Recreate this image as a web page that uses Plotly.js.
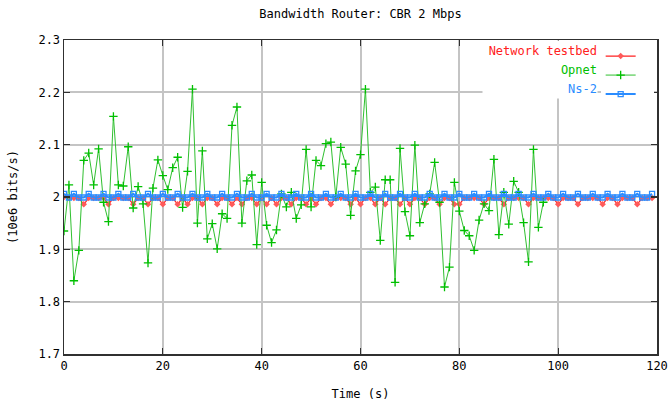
<!DOCTYPE html>
<html>
<head>
<meta charset="utf-8">
<script src="https://cdn.plot.ly/plotly-3.0.1.min.js"></script>
<style>html,body{margin:0;padding:0;background:#fff;}#chart{width:671px;height:407px;}</style>
</head>
<body>
<div id="chart"></div>
<script>
// ---- data ----
var seriesNames = ["Network testbed", "Opnet", "Ns-2"];

var opnetTime = [0,1,2,3,4,5,6,7,8,9,10,11,12,13,14,15,16,17,18,19,20,21,22,23,24,25,26,27,28,29,30,31,32,33,34,35,36,37,38,39,40,41,42,43,44,45,46,47,48,49,50,51,52,53,54,55,56,57,58,59,60,61,62,63,64,65,66,67,68,69,70,71,72,73,74,75,76,77,78,79,80,81,82,83,84,85,86,87,88,89,90,91,92,93,94,95,96,97];
var opnetValues = [1.935,2.023,1.840,1.898,2.070,2.084,2.023,2.092,1.990,1.953,
  2.154,2.023,2.021,2.096,1.979,2.020,1.987,1.874,2.017,2.071,
  2.041,2.014,2.056,2.076,1.980,2.049,2.206,1.950,2.088,1.920,
  1.949,1.901,1.968,1.959,2.137,2.172,1.950,2.031,2.042,1.909,
  2.028,1.946,1.913,1.937,2.006,1.981,2.009,1.959,1.985,2.091,
  1.981,2.070,2.060,2.102,2.105,2.000,2.095,2.063,1.965,2.050,
  2.081,2.206,2.009,2.019,1.917,2.033,2.033,1.837,2.093,1.972,
  1.926,2.099,1.951,1.987,2.006,2.066,1.990,1.828,1.866,2.028,
  1.973,1.936,1.926,1.898,1.956,1.987,1.974,2.072,1.928,2.009,
  1.948,2.030,2.009,1.951,1.876,2.091,1.942,1.990];

var simTime = [0,1,2,3,4,5,6,7,8,9,10,11,12,13,14,15,16,17,18,19,20,21,22,23,24,25,26,27,28,29,30,31,32,33,34,35,36,37,38,39,40,41,42,43,44,45,46,47,48,49,50,51,52,53,54,55,56,57,58,59,60,61,62,63,64,65,66,67,68,69,70,71,72,73,74,75,76,77,78,79,80,81,82,83,84,85,86,87,88,89,90,91,92,93,94,95,96,97,98,99,100,101,102,103,104,105,106,107,108,109,110,111,112,113,114,115,116,117,118,119];

var testbedValues = [2.000,1.998,1.998,1.998,1.986,1.998,1.998,1.998,1.998,1.986,
  1.998,1.998,1.998,1.998,1.986,1.998,1.998,1.986,1.998,1.998,
  1.986,1.998,1.998,1.986,1.998,1.986,1.998,1.998,1.986,1.998,
  1.998,1.986,1.998,1.998,1.986,1.998,1.986,1.998,1.998,1.986,
  1.998,1.986,1.998,1.986,1.998,1.998,1.986,1.998,1.998,1.986,
  1.998,1.986,1.998,1.998,1.986,1.998,1.998,1.998,1.986,1.998,
  1.986,1.998,1.998,1.986,1.998,1.986,1.998,1.998,1.986,1.998,
  1.986,1.998,1.998,1.986,1.998,1.998,1.986,1.998,1.998,1.986,
  1.986,1.998,1.998,1.998,1.998,1.986,1.998,1.998,1.998,1.986,
  1.998,1.998,1.998,1.998,1.986,1.998,1.998,1.998,1.998,1.998,
  1.986,1.998,1.998,1.998,1.986,1.998,1.998,1.998,1.998,1.986,
  1.998,1.998,1.986,1.998,1.998,1.998,1.986,1.998,1.998,1.998];

var ns2Values = [2.006,1.999,2.006,1.999,1.999,2.006,1.999,1.999,2.006,1.999,
  1.999,2.006,1.999,1.999,2.006,1.999,1.999,2.006,1.999,1.999,
  2.006,1.999,1.999,2.006,1.999,1.999,2.006,1.999,1.999,2.006,
  1.999,1.999,2.006,1.999,1.999,2.006,1.999,1.999,2.006,1.999,
  1.999,2.006,1.999,1.999,2.006,1.999,1.999,2.006,1.999,1.999,
  2.006,1.999,1.999,2.006,1.999,1.999,2.006,1.999,1.999,2.006,
  1.999,1.999,2.006,1.999,1.999,2.006,1.999,1.999,2.006,1.999,
  1.999,2.006,1.999,1.999,2.006,1.999,1.999,2.006,1.999,1.999,
  2.006,1.999,1.999,2.006,1.999,1.999,2.006,1.999,1.999,2.006,
  1.999,1.999,2.006,1.999,1.999,2.006,1.999,1.999,2.006,1.999,
  1.999,2.006,1.999,1.999,2.006,1.999,1.999,2.006,1.999,1.999,
  2.006,1.999,1.999,2.006,1.999,1.999,2.006,1.999,1.999,2.006];

var xTickVals = [0,20,40,60,80,100,120];
var xTickText = ["0","20","40","60","80","100","120"];
var yTickVals = [1.7,1.8,1.9,2.0,2.1,2.2,2.3];
var yTickText = ["1.7","1.8","1.9","2","2.1","2.2","2.3"];

var colRed = "#ff2020", colGreen = "#00c000", colBlue = "#2a8cff";
var monoFont = "DejaVu Sans Mono, Liberation Mono, monospace";

var traces = [
  {x: simTime, y: testbedValues, type: "scatter", mode: "lines+markers", name: " ",
   line: {color: colRed, width: 1.2},
   marker: {symbol: "diamond", size: 5, color: "#ff5a5a"}},
  {x: opnetTime, y: opnetValues, type: "scatter", mode: "lines+markers", name: " ",
   line: {color: "#30c030", width: 1},
   marker: {symbol: "cross-thin", size: 6, line: {color: colGreen, width: 1.3}}},
  {x: simTime, y: ns2Values, type: "scatter", mode: "lines+markers", name: " ",
   line: {color: colBlue, width: 2},
   marker: {symbol: "square-open", size: 5, line: {color: colBlue, width: 1.3}}}
];

var legendColors = [colRed, colGreen, colBlue];
var annots = [];
for (var i = 0; i < seriesNames.length; i++) {
  annots.push({
    xref: "paper", yref: "paper", x: 0.9005, y: 0.968 - i * 0.0605,
    xanchor: "right", yanchor: "middle", align: "right",
    text: seriesNames[i], showarrow: false,
    font: {family: monoFont, size: 12, color: legendColors[i]},
    bgcolor: "#ffffff", borderpad: 0, width: 114, height: 19
  });
}

var axisCommon = {
  showline: true, linecolor: "#303030", linewidth: 1.5, mirror: "ticks",
  ticks: "inside", ticklen: 6, tickwidth: 1.2, tickcolor: "#303030",
  showgrid: true, gridcolor: "#c4c4c4", gridwidth: 2, zeroline: false,
  tickfont: {family: monoFont, size: 12, color: "#000"}, tickmode: "array"
};

var layout = {
  width: 671, height: 407,
  margin: {l: 64, r: 14, t: 40, b: 53},
  paper_bgcolor: "#fff", plot_bgcolor: "#fff",
  title: {text: "Bandwidth Router: CBR 2 Mbps", font: {family: monoFont, size: 12, color: "#000"},
          xref: "paper", x: 0.5, xanchor: "center", yref: "container", y: 0.966, yanchor: "middle"},
  xaxis: Object.assign({}, axisCommon, {range: [0, 120], tickvals: xTickVals, ticktext: xTickText,
          title: {text: "Time (s)", font: {family: monoFont, size: 12, color: "#000"}, standoff: 17}}),
  yaxis: Object.assign({}, axisCommon, {range: [1.7, 2.3], tickvals: yTickVals, ticktext: yTickText,
          title: {text: "(10e6 bits/s)", font: {family: monoFont, size: 12, color: "#000"}, standoff: 18}}),
  showlegend: true,
  legend: {x: 0.905, y: 0.995, xanchor: "left", yanchor: "top", bgcolor: "#ffffff",
           borderwidth: 0, font: {family: monoFont, size: 12}, tracegroupgap: 0},
  annotations: annots
};

Plotly.newPlot("chart", traces, layout, {displayModeBar: false, staticPlot: true});
</script>
</body>
</html>
